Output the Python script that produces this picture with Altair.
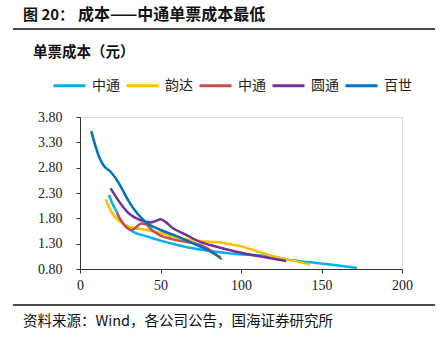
import altair as alt
import pandas as pd

# ---- data ----
series_keys = ["中通A", "韵达", "中通B", "圆通", "百世"]
series_colors = ["#00B0F0", "#FFC000", "#C0504D", "#7030A0", "#0070C0"]

zto1_x = [18, 20, 22, 25, 29, 34, 42, 50, 60, 70, 80, 95, 110, 120, 130, 150, 172]
zto1_y = [2.26, 2.10, 1.98, 1.78, 1.62, 1.52, 1.44, 1.36, 1.28, 1.21, 1.16, 1.10, 1.07, 1.04, 0.98, 0.91, 0.82]

yd_x = [16, 20, 25, 31, 40, 50, 60, 70, 80, 90, 100, 110, 120, 130, 143]
yd_y = [2.17, 1.90, 1.73, 1.63, 1.58, 1.51, 1.42, 1.37, 1.34, 1.31, 1.25, 1.15, 1.05, 0.98, 0.89]

zto2_x = [23, 25, 28, 32, 35, 38, 41, 45, 50, 57, 65, 75, 82, 88]
zto2_y = [1.90, 1.78, 1.65, 1.57, 1.63, 1.70, 1.68, 1.56, 1.46, 1.39, 1.34, 1.27, 1.15, 0.99]

yto_x = [19, 25, 31, 37, 44, 48, 50, 53, 58, 65, 75, 85, 100, 115, 128]
yto_y = [2.39, 2.10, 1.88, 1.77, 1.72, 1.76, 1.78, 1.73, 1.60, 1.49, 1.33, 1.24, 1.12, 1.03, 0.96]

bs_x = [7, 12, 15, 19, 24, 30, 36, 42, 50, 60, 70, 80, 87]
bs_y = [3.52, 3.00, 2.83, 2.72, 2.50, 2.15, 1.88, 1.70, 1.57, 1.45, 1.31, 1.16, 1.03]

y_ticks = [0.8, 1.3, 1.8, 2.3, 2.8, 3.3, 3.8]
x_ticks = [0, 50, 100, 150, 200]

title_num = "图 20："
title_main = "成本——中通单票成本最低"
unit_text = "单票成本（元）"
source_text = "资料来源：Wind，各公司公告，国海证券研究所"

# ---- build table ----
rows = []
for key, xs, ys in zip(series_keys,
                       [zto1_x, yd_x, zto2_x, yto_x, bs_x],
                       [zto1_y, yd_y, zto2_y, yto_y, bs_y]):
    for a, b in zip(xs, ys):
        rows.append({"series": key, "x": a, "y": b})
df = pd.DataFrame(rows)

serif = "Liberation Serif"
cjk = "Noto Sans CJK SC"

lines = alt.Chart(df).mark_line(strokeWidth=2.5, interpolate="monotone").encode(
    x=alt.X("x:Q", scale=alt.Scale(domain=[0, 200], nice=False),
            axis=alt.Axis(values=x_ticks, title=None, grid=False, labelFont=serif,
                          labelFontSize=14, labelColor="#222", domainColor="#333",
                          tickColor="#333", tickSize=4, labelPadding=5, format="d",
                          labelFlush=False)),
    y=alt.Y("y:Q", scale=alt.Scale(domain=[0.8, 3.8], nice=False, zero=False),
            axis=alt.Axis(values=y_ticks, title=None, grid=False, labelFont=serif,
                          labelFontSize=14, labelColor="#222", domainColor="#333",
                          tickColor="#333", tickSize=4, labelPadding=14, format=".2f",
                          labelFlush=False)),
    color=alt.Color("series:N",
                    scale=alt.Scale(domain=series_keys, range=series_colors),
                    sort=series_keys,
                    legend=alt.Legend(title=None, orient="none", direction="horizontal",
                                      legendX=-28, legendY=-49, symbolType="stroke",
                                      symbolStrokeWidth=3, symbolSize=1024,
                                      labelFont=cjk, labelFontSize=14, labelColor="#222",
                                      labelOffset=5, columnPadding=0,
                                      labelExpr="substring(datum.label, 0, 2)")),
    order=alt.Order("x:Q"),
)

def text_layer(txt, x, y, size, weight="normal", font=cjk):
    return alt.Chart(pd.DataFrame({"t": [txt]})).mark_text(
        align="left", baseline="middle", font=font, fontSize=size,
        fontWeight=weight, color="#111"
    ).encode(text="t:N", x=alt.value(x), y=alt.value(y))

title1 = text_layer(title_num, -57, -102, 15, "bold")
title2 = text_layer(title_main, -2, -102, 16, "bold")
unit = text_layer(unit_text, -47, -64, 14.5, "bold")
source = text_layer(source_text, -57, 205, 14.5)

def hrule(y):
    return alt.Chart(pd.DataFrame({"a": [0]})).mark_rule(color="#111", strokeWidth=1.5).encode(
        x=alt.value(-67), x2=alt.value(355), y=alt.value(y))

chart = alt.layer(lines, title1, title2, unit, source, hrule(-88), hrule(188)).properties(
    width=322, height=152,
    autosize=alt.AutoSizeParams(type="none"),
    padding={"left": 80, "top": 117, "right": 45, "bottom": 81},
).configure_view(stroke=None).configure(background="white")

chart.save("out.html", embed_options={"renderer": "svg", "actions": False})
